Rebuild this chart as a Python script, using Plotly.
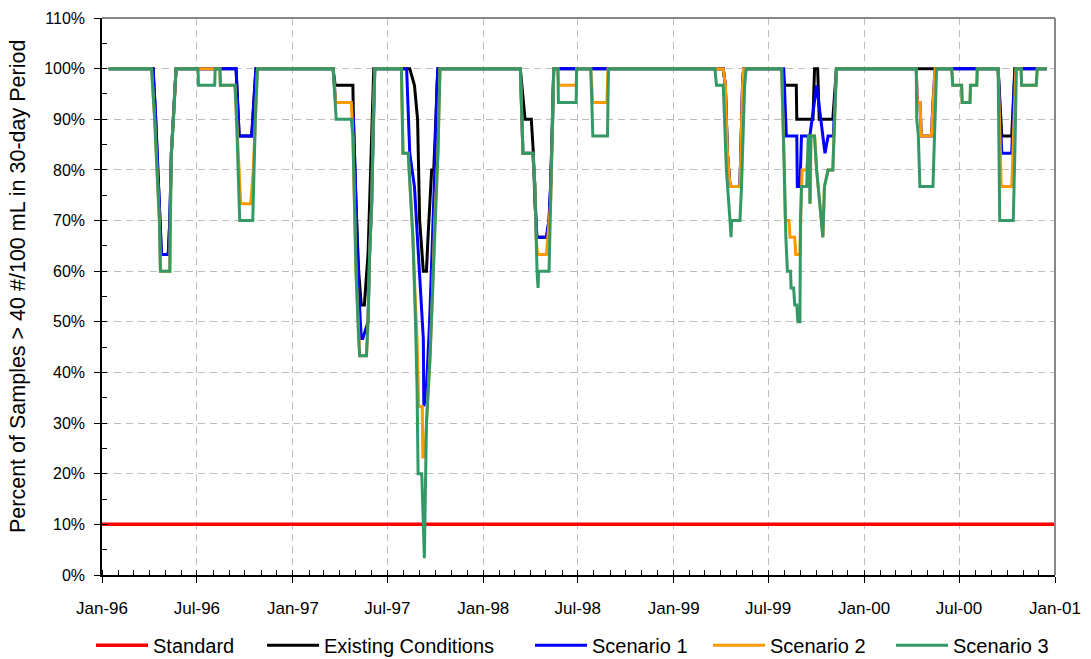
import plotly.graph_objects as go

# ---------------- data (percent of samples > 40 #/100 mL in 30-day period) ----------------
std_dates = ["1996-01-01", "2001-01-01"]
std_pct = [10, 10]

ec_dates = [
    "1996-01-14",
    "1996-04-08", "1996-04-13", "1996-04-18", "1996-04-24", "1996-05-07", "1996-05-10", "1996-05-13", "1996-05-17", "1996-05-22",
    "1996-09-14", "1996-09-20", "1996-10-14", "1996-10-22",
    "1997-03-19", "1997-03-23", "1997-04-26", "1997-04-27", "1997-05-02", "1997-05-07", "1997-05-12", "1997-05-18", "1997-05-25", "1997-05-28", "1997-06-03", "1997-06-05",
    "1997-08-13", "1997-08-22", "1997-08-28", "1997-09-01", "1997-09-08", "1997-09-14", "1997-09-17", "1997-09-24", "1997-09-28", "1997-10-02", "1997-10-06",
    "1998-03-13", "1998-03-22", "1998-04-03", "1998-04-07", "1998-04-10", "1998-04-14", "1998-05-02", "1998-05-07", "1998-05-10", "1998-05-14", "1998-05-16",
    "1999-04-06", "1999-04-10", "1999-04-14", "1999-04-19", "1999-05-08", "1999-05-10", "1999-05-13", "1999-05-15",
    "1999-07-27", "1999-08-02", "1999-08-24", "1999-08-25", "1999-09-25", "1999-09-28", "1999-10-04", "1999-10-07", "1999-11-02", "1999-11-09",
    "2000-09-14", "2000-09-21", "2000-10-10", "2000-10-16",
    "2000-12-16",
]
ec_pct = [
    100,
    100, 90, 76.7, 63.3, 63.3, 70, 83.3, 90, 100,
    100, 86.7, 86.7, 100,
    100, 96.7, 96.7, 90, 73.3, 60, 53.3, 53.3, 63.3, 73.3, 90, 100,
    100, 96.7, 90, 70, 60, 60, 66.7, 80, 80, 90, 100,
    100, 90, 90, 83.3, 73.3, 66.7, 66.7, 70, 76.7, 90, 100,
    100, 96.7, 83.3, 76.7, 76.7, 86.7, 96.7, 100,
    100, 96.7, 96.7, 90, 90, 100, 100, 90, 90, 100,
    100, 86.7, 86.7, 100,
    100,
]

s1_dates = [
    "1996-01-14",
    "1996-04-08", "1996-04-13", "1996-04-18", "1996-04-24", "1996-05-07", "1996-05-10", "1996-05-13", "1996-05-17", "1996-05-22",
    "1996-09-14", "1996-09-20", "1996-10-14", "1996-10-22",
    "1997-03-19", "1997-03-24", "1997-04-24", "1997-04-27", "1997-05-02", "1997-05-07", "1997-05-12", "1997-05-15", "1997-05-25", "1997-05-28", "1997-06-01", "1997-06-04", "1997-06-07",
    "1997-08-07", "1997-08-13", "1997-08-22", "1997-09-01", "1997-09-08", "1997-09-09", "1997-09-14", "1997-09-20", "1997-09-26", "1997-09-30", "1997-10-04", "1997-10-06",
    "1998-03-13", "1998-03-18", "1998-04-06", "1998-04-10", "1998-04-13", "1998-05-02", "1998-05-07", "1998-05-10", "1998-05-14", "1998-05-16",
    "1999-04-06", "1999-04-10", "1999-04-14", "1999-04-19", "1999-05-08", "1999-05-10", "1999-05-13", "1999-05-15",
    "1999-07-31", "1999-08-05", "1999-08-25", "1999-08-26", "1999-08-31", "1999-09-03", "1999-09-19", "1999-10-02", "1999-10-18", "1999-10-24", "1999-11-03", "1999-11-09",
    "2000-04-10", "2000-04-12", "2000-04-17", "2000-04-20", "2000-05-09", "2000-05-12", "2000-05-16",
    "2000-09-14", "2000-09-21", "2000-10-10", "2000-10-16",
    "2000-12-16",
]
s1_pct = [
    100,
    100, 90, 76.7, 63.3, 63.3, 70, 83.3, 90, 100,
    100, 86.7, 86.7, 100,
    100, 93.3, 93.3, 90, 73.3, 56.7, 46.7, 46.7, 50, 63.3, 73.3, 90, 100,
    100, 83.3, 76.7, 60, 46.7, 33.3, 36.7, 50, 66.7, 80, 96.7, 100,
    100, 83.3, 83.3, 76.7, 66.7, 66.7, 70, 76.7, 90, 100,
    100, 96.7, 83.3, 76.7, 76.7, 86.7, 96.7, 100,
    100, 86.7, 86.7, 76.7, 76.7, 86.7, 86.7, 96.7, 83.3, 86.7, 86.7, 100,
    100, 93.3, 93.3, 86.7, 86.7, 93.3, 100,
    100, 83.3, 83.3, 100,
    100,
]

s2_dates = [
    "1996-01-14",
    "1996-04-05", "1996-04-11", "1996-04-16", "1996-04-20", "1996-04-22", "1996-05-10", "1996-05-11", "1996-05-13", "1996-05-17", "1996-05-22",
    "1996-08-14", "1996-08-15", "1996-09-12", "1996-09-15", "1996-09-19", "1996-09-23", "1996-10-12", "1996-10-17", "1996-10-21", "1996-10-25",
    "1997-03-19", "1997-03-24", "1997-04-23", "1997-04-26", "1997-05-02", "1997-05-07", "1997-05-09", "1997-05-22", "1997-05-25", "1997-05-28", "1997-06-01", "1997-06-04", "1997-06-07",
    "1997-07-28", "1997-07-31", "1997-08-10", "1997-08-19", "1997-08-24", "1997-08-27", "1997-08-30", "1997-09-06", "1997-09-07", "1997-09-11", "1997-09-14", "1997-09-21", "1997-09-26", "1997-09-30", "1997-10-06", "1997-10-10",
    "1998-03-13", "1998-03-18", "1998-04-06", "1998-04-10", "1998-04-12", "1998-04-15", "1998-05-02", "1998-05-08", "1998-05-10", "1998-05-14", "1998-05-16",
    "1998-05-24", "1998-05-25", "1998-06-28", "1998-06-29",
    "1998-07-26", "1998-07-28", "1998-07-30", "1998-08-26", "1998-08-28",
    "1999-04-06", "1999-04-10", "1999-04-14", "1999-04-19", "1999-05-08", "1999-05-10", "1999-05-13", "1999-05-15",
    "1999-07-27", "1999-08-01", "1999-08-03", "1999-08-10", "1999-08-12", "1999-08-21", "1999-08-23", "1999-08-31", "1999-09-02", "1999-09-04", "1999-09-13", "1999-09-16", "1999-09-19", "1999-09-20", "1999-09-21", "1999-09-28", "1999-10-02", "1999-10-14", "1999-10-17", "1999-10-24", "1999-11-02", "1999-11-09",
    "2000-04-10", "2000-04-12", "2000-04-17", "2000-04-20", "2000-05-09", "2000-05-12", "2000-05-16",
    "2000-06-17", "2000-06-19", "2000-07-06", "2000-07-07", "2000-07-22", "2000-07-23", "2000-08-04", "2000-08-05",
    "2000-09-14", "2000-09-20", "2000-10-10", "2000-10-14", "2000-10-18",
    "2000-10-28", "2000-10-29", "2000-11-26", "2000-11-28",
    "2000-12-16",
]
s2_pct = [
    100,
    100, 90, 80, 70, 60, 60, 70, 83.3, 90, 100,
    100, 96.7, 96.7, 90, 80, 73.3, 73.3, 80, 90, 100,
    100, 93.3, 93.3, 86.7, 60, 46.7, 43.3, 43.3, 50, 63.3, 73.3, 90, 100,
    100, 83.3, 83.3, 66.7, 53.3, 46.7, 33.3, 33.3, 23.3, 23.3, 30, 43.3, 56.7, 70, 83.3, 100,
    100, 83.3, 83.3, 76.7, 66.7, 63.3, 63.3, 70, 73.3, 90, 100,
    100, 96.7, 96.7, 100,
    100, 96.7, 93.3, 93.3, 100,
    100, 96.7, 83.3, 76.7, 76.7, 86.7, 96.7, 100,
    100, 80, 70, 70, 66.7, 66.7, 63.3, 63.3, 70, 80, 80, 83.3, 83.3, 73.3, 86.7, 86.7, 80, 66.7, 76.7, 80, 80, 100,
    100, 93.3, 93.3, 86.7, 86.7, 93.3, 100,
    100, 96.7, 96.7, 93.3, 93.3, 96.7, 96.7, 100,
    100, 76.7, 76.7, 86.7, 100,
    100, 96.7, 96.7, 100,
    100,
]

s3_dates = [
    "1996-01-14",
    "1996-04-05", "1996-04-11", "1996-04-16", "1996-04-20", "1996-04-22", "1996-05-10", "1996-05-11", "1996-05-13", "1996-05-17", "1996-05-22",
    "1996-07-03", "1996-07-04", "1996-08-04", "1996-08-05", "1996-08-14", "1996-08-15", "1996-09-12", "1996-09-15", "1996-09-18", "1996-09-21", "1996-10-16", "1996-10-18", "1996-10-21", "1996-10-25",
    "1997-03-19", "1997-03-25", "1997-04-23", "1997-04-26", "1997-05-02", "1997-05-07", "1997-05-09", "1997-05-22", "1997-05-25", "1997-05-28", "1997-06-01", "1997-06-04", "1997-06-07",
    "1997-07-28", "1997-07-31", "1997-08-10", "1997-08-19", "1997-08-24", "1997-08-27", "1997-08-29", "1997-09-05", "1997-09-08", "1997-09-10", "1997-09-11", "1997-09-14", "1997-09-21", "1997-09-26", "1997-09-30", "1997-10-06", "1997-10-10",
    "1998-03-13", "1998-03-18", "1998-04-06", "1998-04-10", "1998-04-12", "1998-04-14", "1998-04-16", "1998-04-17", "1998-05-07", "1998-05-10", "1998-05-14", "1998-05-16",
    "1998-05-24", "1998-05-25", "1998-06-28", "1998-06-29",
    "1998-07-26", "1998-07-28", "1998-07-30", "1998-08-27", "1998-08-29",
    "1999-03-21", "1999-03-24", "1999-04-06", "1999-04-12", "1999-04-19", "1999-04-21", "1999-04-22", "1999-05-08", "1999-05-11", "1999-05-17", "1999-05-20",
    "1999-07-27", "1999-08-01", "1999-08-04", "1999-08-07", "1999-08-13", "1999-08-14", "1999-08-19", "1999-08-21", "1999-08-25", "1999-08-27", "1999-08-31", "1999-09-01", "1999-09-03", "1999-09-13", "1999-09-16", "1999-09-18", "1999-09-19", "1999-09-21", "1999-09-28", "1999-10-02", "1999-10-14", "1999-10-17", "1999-10-24", "1999-11-02", "1999-11-09",
    "2000-04-10", "2000-04-11", "2000-04-14", "2000-04-17", "2000-05-12", "2000-05-14", "2000-05-16", "2000-05-19",
    "2000-06-17", "2000-06-19", "2000-07-06", "2000-07-07", "2000-07-22", "2000-07-23", "2000-08-04", "2000-08-05",
    "2000-09-14", "2000-09-17", "2000-10-13", "2000-10-16", "2000-10-19",
    "2000-10-28", "2000-10-29", "2000-11-26", "2000-11-28",
    "2000-12-16",
]
s3_pct = [
    100,
    100, 90, 80, 70, 60, 60, 70, 83.3, 90, 100,
    100, 96.7, 96.7, 100, 100, 96.7, 96.7, 90, 80, 70, 70, 80, 90, 100,
    100, 90, 90, 86.7, 60, 46.7, 43.3, 43.3, 50, 63.3, 73.3, 90, 100,
    100, 83.3, 83.3, 66.7, 50, 36.7, 20, 20, 10, 3.3, 10, 30, 43.3, 56.7, 70, 83.3, 100,
    100, 83.3, 83.3, 76.7, 66.7, 60, 56.7, 60, 60, 73.3, 90, 100,
    100, 93.3, 93.3, 100,
    100, 90, 86.7, 86.7, 100,
    100, 96.7, 96.7, 80, 70, 66.7, 70, 70, 76.7, 96.7, 100,
    100, 80, 66.7, 60, 60, 56.7, 56.7, 53.3, 53.3, 50, 50, 70, 76.7, 76.7, 86.7, 86.7, 73.3, 86.7, 86.7, 80, 66.7, 76.7, 80, 80, 100,
    100, 90, 86.7, 76.7, 76.7, 86.7, 90, 100,
    100, 96.7, 96.7, 93.3, 93.3, 96.7, 96.7, 100,
    100, 70, 70, 83.3, 100,
    100, 96.7, 96.7, 100,
    100,
]

series_names = ["Standard", "Existing Conditions", "Scenario 1", "Scenario 2", "Scenario 3"]
y_title = "Percent of Samples > 40 #/100 mL in 30-day Period"
x_tick_start = "1996-01-01"
x_range = ["1996-01-01", "2001-01-01"]
y_range = [0, 110]

# ---------------- figure ----------------
FONT = "Arial, 'Liberation Sans', sans-serif"
colors = ["#FF0000", "#000000", "#0000FF", "#FF9900", "#339966"]
data = [(std_dates, std_pct), (ec_dates, ec_pct), (s1_dates, s1_pct), (s2_dates, s2_pct), (s3_dates, s3_pct)]

# one legend box per entry so that the entries are spread like the original
PLOT_L, PLOT_W, PLOT_T, PLOT_H = 102, 953, 18, 557
legend_px = [91, 262, 530, 708, 891]
legend_ids = ["legend", "legend2", "legend3", "legend4", "legend5"]

fig = go.Figure()
for name, col, (xs, ys), lid in zip(series_names, colors, data, legend_ids):
    fig.add_trace(go.Scatter(
        x=xs, y=ys, name=name, mode="lines", legend=lid,
        line=dict(color=col, width=3.5 if name == "Standard" else 3),
        hovertemplate="%{x|%b %d, %Y}: %{y:.1f}%<extra>" + name + "</extra>",
    ))

legend_layout = {}
for lid, px in zip(legend_ids, legend_px):
    legend_layout[lid] = dict(
        orientation="h", x=(px - PLOT_L) / PLOT_W, xanchor="left", y=-0.126, yanchor="middle",
        font=dict(size=20, family=FONT), itemwidth=52, bgcolor="rgba(0,0,0,0)", borderwidth=0,
    )

fig.update_layout(
    width=1091, height=659,
    margin=dict(l=PLOT_L, r=1091 - PLOT_L - PLOT_W, t=PLOT_T, b=659 - PLOT_T - PLOT_H, autoexpand=False),
    paper_bgcolor="white", plot_bgcolor="white",
    font=dict(family=FONT, size=16, color="black"),
    showlegend=True,
    xaxis=dict(
        type="date", range=x_range, tick0=x_tick_start, dtick="M6", tickformat="%b-%y",
        automargin=False,
        showline=True, linecolor="black", linewidth=1.5,
        ticks="outside", ticklen=6, tickcolor="black", tickwidth=1.2,
        ticklabelstandoff=11,
        showgrid=True, gridcolor="#BDBDBD", gridwidth=1, griddash="7px,5px",
        minor=dict(dtick="M1", tick0=x_tick_start, ticks="inside", ticklen=5, tickcolor="black", showgrid=False),
        zeroline=False, tickfont=dict(size=17),
    ),
    yaxis=dict(
        range=y_range, dtick=10, ticksuffix="%",
        automargin=False,
        showline=True, linecolor="black", linewidth=1.5,
        ticks="outside", ticklen=6, tickcolor="black", tickwidth=1.2,
        ticklabelstandoff=6,
        showgrid=True, gridcolor="#BDBDBD", gridwidth=1, griddash="7px,5px",
        minor=dict(dtick=5, ticks="inside", ticklen=5, tickcolor="black", showgrid=False),
        zeroline=False, tickfont=dict(size=16),
    ),
    annotations=[
        dict(text=y_title, textangle=-90, xref="paper", yref="paper",
             x=(18 - PLOT_L) / PLOT_W, y=(PLOT_T + PLOT_H - 287) / PLOT_H,
             xanchor="center", yanchor="middle", showarrow=False, font=dict(size=21.5, family=FONT)),
    ],
    shapes=[
        dict(type="line", xref="paper", yref="paper", x0=0, x1=1, y0=1, y1=1, line=dict(color="#888888", width=2)),
        dict(type="line", xref="paper", yref="paper", x0=1, x1=1, y0=0, y1=1, line=dict(color="#888888", width=2)),
    ],
    **legend_layout,
)

# remove the browser's default 8px page margin so the 1091x659 figure fills the window exactly
fig.write_html(
    "out.html",
    config={"displayModeBar": False},
    post_script="document.body.style.margin='0';document.body.style.padding='0';document.body.style.overflow='hidden';",
)
